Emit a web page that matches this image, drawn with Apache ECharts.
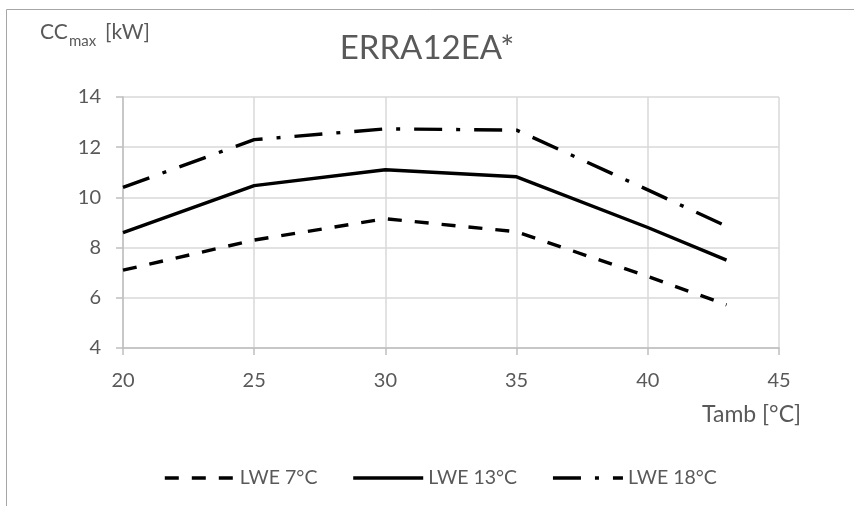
<!DOCTYPE html>
<html><head><meta charset="utf-8">
<script src="https://cdn.jsdelivr.net/npm/echarts@6/dist/echarts.min.js"></script>
<style>html,body{margin:0;padding:0;background:#fff}#c{width:854px;height:506px}</style>
</head><body><div id="c"></div>
<script>
const tamb = [20, 25, 30, 35, 40, 43];
const lwe7 = [7.1, 8.3, 9.15, 8.63, 6.85, 5.72];
const lwe13 = [8.6, 10.47, 11.1, 10.82, 8.8, 7.5];
const lwe18 = [10.4, 12.3, 12.73, 12.68, 10.3, 8.85];
const seriesNames = ['LWE 7°C', 'LWE 13°C', 'LWE 18°C'];
const titleText = 'ERRA12EA*';
const xName = 'Tamb [°C]';

const FONT = 'Lato, Carlito, "Open Sans", sans-serif';
const TXT = '#595959';
const pairs = a => tamb.map((x, i) => [x, a[i]]);

const chart = echarts.init(document.getElementById('c'));
const mk = (name, data, type) => ({
  name, type: 'line', data: pairs(data), symbol: 'none', animation: false,
  lineStyle: { color: '#000', width: 3.4, type: type, cap: 'butt' },
  itemStyle: { color: '#000' }
});
chart.setOption({
  backgroundColor: '#fff',
  animation: false,
  title: { text: titleText, left: 'center', top: 27,
    textStyle: { fontFamily: FONT, fontSize: 33, fontWeight: 'normal', color: TXT } },
  grid: { left: 123, right: 75, top: 97, bottom: 158 },
  legend: {
    left: 158, top: 463, itemWidth: 70, itemHeight: 14, itemGap: 34,
    itemStyle: { opacity: 0 },
    lineStyle: { width: 3.6 },
    textStyle: { fontFamily: FONT, fontSize: 19.5, color: TXT },
    data: seriesNames
  },
  xAxis: {
    type: 'value', min: 20, max: 45, interval: 5,
    axisLine: { show: true, lineStyle: { color: '#bfbfbf', width: 1.5 } },
    axisTick: { show: true, length: 7, lineStyle: { color: '#bfbfbf', width: 1.5 } },
    axisLabel: { margin: 23, fontFamily: FONT, fontSize: 20, color: TXT },
    splitLine: { show: true, lineStyle: { color: '#d9d9d9', width: 1.5 } }
  },
  yAxis: {
    type: 'value', min: 4, max: 14, interval: 2,
    axisLine: { show: true, lineStyle: { color: '#bfbfbf', width: 1.5 } },
    axisTick: { show: true, length: 7, lineStyle: { color: '#bfbfbf', width: 1.5 } },
    axisLabel: { margin: 22, fontFamily: FONT, fontSize: 20, color: TXT },
    splitLine: { show: true, lineStyle: { color: '#d9d9d9', width: 1.5 } }
  },
  series: [
    mk(seriesNames[0], lwe7, [14, 13]),
    mk(seriesNames[1], lwe13, 'solid'),
    mk(seriesNames[2], lwe18, [28, 14, 4, 14])
  ],
  graphic: [
    { type: 'rect', silent: true, z: -1, shape: { x: 6.5, y: 9.5, width: 900, height: 600 },
      style: { fill: 'none', stroke: '#a6a6a6', lineWidth: 1 } },
    { type: 'text', x: 40, y: 22, style: { text: 'CC', font: '21px ' + FONT, fill: TXT } },
    { type: 'text', x: 69, y: 34, style: { text: 'max', font: '15px ' + FONT, fill: TXT } },
    { type: 'text', x: 105, y: 22, style: { text: '[kW]', font: '21px ' + FONT, fill: TXT } },
    { type: 'text', x: 702, y: 403, style: { text: xName, font: '23px ' + FONT, fill: TXT } }
  ]
});
</script></body></html>
